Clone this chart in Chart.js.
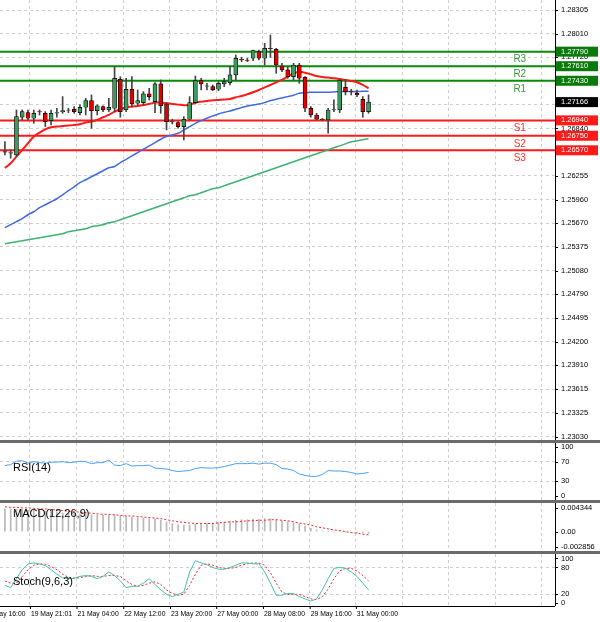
<!DOCTYPE html>
<html><head><meta charset="utf-8">
<script src="https://cdn.jsdelivr.net/npm/chart.js@4"></script>
<style>
body{margin:0;background:#fff;width:600px;height:622px;overflow:hidden;position:relative;font-family:"Liberation Sans",sans-serif}
.p{position:absolute;left:0;width:600px}
.sep{position:absolute;left:0;width:600px;height:3px;background:#6b6b6b}
</style></head><body>
<div class="p" style="top:0;height:440px"><canvas id="main"></canvas></div>
<div class="sep" style="top:440px"></div>
<div class="p" style="top:443px;height:57px"><canvas id="rsi"></canvas></div>
<div class="sep" style="top:500px"></div>
<div class="p" style="top:503px;height:48px"><canvas id="macd"></canvas></div>
<div class="sep" style="top:551px"></div>
<div class="p" style="top:554px;height:68px"><canvas id="stoch"></canvas></div>
<script>
const opens=[1.26554,1.26534,1.26513,1.26979,1.27036,1.26966,1.27049,1.27028,1.26937,1.27028,1.27049,1.27069,1.27077,1.27036,1.27102,1.27185,1.27061,1.2711,1.27069,1.2709,1.27448,1.27069,1.27325,1.27152,1.2716,1.27267,1.27172,1.27391,1.27143,1.26925,1.26913,1.26863,1.26954,1.2716,1.27432,1.27366,1.27358,1.27325,1.27391,1.27407,1.27502,1.27695,1.27687,1.27708,1.2779,1.27708,1.27831,1.27819,1.27613,1.27564,1.27481,1.27625,1.27473,1.2709,1.27007,1.26954,1.26946,1.27069,1.27069,1.27349,1.27296,1.27275,1.27201,1.27049];
const highs=[1.26678,1.26575,1.27069,1.27069,1.27069,1.27069,1.27069,1.27049,1.27069,1.2709,1.27234,1.2709,1.2711,1.27131,1.27213,1.27255,1.27131,1.27119,1.27213,1.27605,1.27481,1.27461,1.27481,1.27316,1.27296,1.27337,1.27407,1.2744,1.2716,1.26954,1.26925,1.26987,1.27234,1.27489,1.27461,1.27399,1.27378,1.27419,1.27461,1.27605,1.27749,1.2772,1.27708,1.27811,1.27811,1.27893,1.27996,1.27831,1.27646,1.27605,1.27646,1.27646,1.27481,1.2711,1.27028,1.26966,1.2709,1.27193,1.27448,1.27448,1.27325,1.27316,1.27234,1.27255];
const lows=[1.26513,1.26472,1.26492,1.26946,1.26946,1.26904,1.27007,1.26863,1.26884,1.26979,1.27028,1.27036,1.27028,1.27007,1.27007,1.26843,1.27007,1.27049,1.27049,1.27049,1.26979,1.27049,1.2711,1.27131,1.27131,1.27193,1.27036,1.27028,1.26822,1.26896,1.26843,1.26698,1.26946,1.27143,1.27316,1.27316,1.27308,1.27308,1.27358,1.27378,1.2744,1.27667,1.27667,1.27679,1.27687,1.27625,1.2772,1.27522,1.27543,1.27461,1.2744,1.27399,1.27049,1.26979,1.26946,1.26937,1.26781,1.27049,1.27036,1.27255,1.27255,1.27234,1.26979,1.27028];
const closes=[1.26546,1.26542,1.26987,1.27049,1.26966,1.27028,1.27045,1.26925,1.27028,1.27036,1.27061,1.27066,1.27049,1.27102,1.27185,1.27061,1.27119,1.27069,1.27102,1.27461,1.27049,1.27325,1.27143,1.27185,1.27267,1.27234,1.27391,1.27119,1.26925,1.26921,1.26863,1.26954,1.2716,1.27432,1.27391,1.27362,1.27316,1.27399,1.27419,1.27502,1.27708,1.27691,1.27683,1.27803,1.27708,1.27831,1.27827,1.27625,1.27564,1.27481,1.27625,1.27461,1.2709,1.27007,1.26954,1.2695,1.27069,1.27073,1.27432,1.27296,1.27292,1.27255,1.27049,1.27166];
const maRed=[1.26352,1.2641,1.26492,1.26575,1.26657,1.2674,1.26789,1.2683,1.26855,1.26863,1.26871,1.26876,1.26884,1.26892,1.26913,1.26925,1.26946,1.26979,1.27007,1.27049,1.27077,1.27102,1.2711,1.27119,1.27131,1.27143,1.2716,1.2716,1.27152,1.27143,1.27135,1.27127,1.27131,1.2716,1.27172,1.27181,1.27189,1.27193,1.27197,1.27205,1.27226,1.27242,1.27263,1.27288,1.27316,1.27349,1.27378,1.27411,1.2744,1.27481,1.27522,1.27543,1.2753,1.2751,1.27489,1.27477,1.27469,1.27461,1.27452,1.2744,1.27428,1.27411,1.27378,1.27337];
const maBlue=[1.25613,1.2565,1.25687,1.25724,1.25773,1.2581,1.2586,1.25897,1.25934,1.25971,1.2602,1.2607,1.26119,1.26169,1.26206,1.26243,1.2628,1.26317,1.26354,1.26369,1.26418,1.26459,1.265,1.26542,1.26583,1.26624,1.26665,1.26707,1.2674,1.2676,1.26781,1.26822,1.26863,1.26904,1.26937,1.26966,1.26995,1.2702,1.2704,1.27057,1.27077,1.27098,1.27119,1.27131,1.27143,1.2716,1.27185,1.27201,1.27218,1.27234,1.27251,1.27275,1.27283,1.27288,1.27288,1.27288,1.27288,1.27292,1.27296,1.27296,1.27296,1.27296,1.273,1.273];
const maGreen=[1.25415,1.25427,1.2544,1.25452,1.25464,1.25477,1.25489,1.25501,1.25514,1.25526,1.25539,1.25563,1.25576,1.25588,1.256,1.25625,1.25637,1.2565,1.25674,1.25687,1.25712,1.25736,1.25761,1.25786,1.2581,1.25835,1.2586,1.25884,1.25909,1.25934,1.25958,1.25983,1.26008,1.2602,1.26045,1.2607,1.26094,1.26107,1.26131,1.26156,1.26181,1.26206,1.2623,1.26255,1.2628,1.26304,1.26329,1.26354,1.26379,1.26403,1.26428,1.26453,1.26477,1.26502,1.26527,1.26551,1.26576,1.26601,1.26625,1.2665,1.26675,1.26687,1.267,1.26712];
const levelNames=["R3","R2","R1","S1","S2","S3"];
const levelValues=[1.2779,1.2761,1.2743,1.2694,1.2675,1.2657];
const lastPrice=1.27166;
const priceTicks=[1.28305,1.2801,1.2772,1.2714,1.2684,1.26255,1.2596,1.2567,1.25375,1.2508,1.2479,1.24495,1.242,1.2391,1.23615,1.23325,1.2303];
const rsi=[62,64,71,72,67,70,68,67,69,69,70,68,69,71,70,66,68,68,73,63,62,66,61,62,62,63,57,56,55,52,50,51,52,56,58,57,57,58,60,63,66,66,66,67,65,67,67,64,56,55,52,45,42,40,40,44,52,51,51,50,48,45,46,48];
const macdHist=[0.0042,0.0042,0.0041,0.0041,0.0040,0.0040,0.0039,0.0038,0.0037,0.0036,0.0035,0.0034,0.0033,0.0033,0.0032,0.0031,0.0031,0.0030,0.0030,0.0031,0.0029,0.0028,0.0027,0.0026,0.0025,0.0024,0.0023,0.0021,0.0018,0.0015,0.0013,0.0012,0.0012,0.0014,0.0015,0.0015,0.0016,0.0017,0.0018,0.0019,0.0021,0.0022,0.0022,0.0023,0.0023,0.0024,0.0024,0.0022,0.0020,0.0018,0.0016,0.0014,0.0010,0.0006,0.0003,0.0001,0.0000,-0.0001,0.0000,-0.0001,-0.0002,-0.0002,-0.0003,-0.0003];
const macdSignal=[0.0046,0.0045,0.0045,0.0044,0.0044,0.0043,0.0042,0.0042,0.0041,0.0040,0.0039,0.0038,0.0037,0.0036,0.0035,0.0034,0.0033,0.0032,0.0032,0.0031,0.0030,0.0029,0.0029,0.0028,0.0027,0.0026,0.0025,0.0024,0.0022,0.0020,0.0018,0.0017,0.0016,0.0015,0.0015,0.0015,0.0015,0.0016,0.0017,0.0018,0.0018,0.0019,0.0020,0.0020,0.0021,0.0021,0.0022,0.0022,0.0021,0.0020,0.0018,0.0016,0.0014,0.0012,0.0009,0.0007,0.0005,0.0003,0.0002,0.0000,-0.0002,-0.0003,-0.0005,-0.0006];
const stochK=[40,35,55,75,88,90,88,84,75,65,57,55,56,60,62,60,55,60,70,62,50,35,38,38,45,55,42,30,20,15,20,25,70,95,90,86,80,76,76,80,85,90,90,88,88,70,45,18,18,22,22,15,10,5,10,30,55,78,80,78,70,60,45,30];
const stochD=[50,45,45,60,75,85,88,87,82,75,65,58,56,57,60,62,60,60,62,62,60,50,42,38,40,45,48,42,30,22,18,20,40,65,85,88,85,80,78,78,80,85,88,90,90,85,68,45,25,20,20,20,15,10,8,15,32,55,72,78,78,72,62,50];
const timeLabels=["18 May 16:00","19 May 21:01","21 May 04:00","22 May 12:00","23 May 20:00","27 May 00:00","28 May 08:00","29 May 16:00","31 May 00:00"];
const timeTickPos=[-3.75,4.33,12.4,20.5,28.6,36.6,44.7,52.8,60.8,68.9,76.9,85,93];

const XMIN=-0.85,XMAX=95.3,AXW=45;
const F='"Liberation Sans", sans-serif';
const idx=closes.map((_,i)=>i);
function xAxis(){return {type:'linear',min:XMIN,max:XMAX,offset:false,display:true,
  afterBuildTicks:a=>{a.ticks=timeTickPos.map(v=>({value:v}));},
  ticks:{display:false},grid:{color:'#cfcfcf',lineWidth:1,drawTicks:false,offset:false},border:{display:false,dash:[3,3]}};}
function yAxis(min,max,ticks,grids){return {position:'right',min,max,
  afterFit:a=>{a.width=AXW;},
  afterBuildTicks:a=>{a.ticks=ticks.map(v=>({value:v}));},
  ticks:{display:false},
  grid:{color:c=>grids.includes(c.tick&&c.tick.value)?'#cfcfcf':'rgba(0,0,0,0)',drawTicks:false},
  border:{display:false,dash:[3,3]}};}
const axisLabels=(fmt)=>({id:'al',afterDraw(c){const ctx=c.ctx,ys=c.scales.y,R=c.chartArea.right;ctx.save();
  ctx.fillStyle='#000';ctx.fillRect(R,0,1,c.chartArea.bottom);
  ctx.font='7.5px '+F;ctx.textBaseline='middle';
  ys.ticks.forEach(t=>{const y=ys.getPixelForValue(t.value);ctx.fillRect(R,Math.round(y),3,1);ctx.fillText(fmt(t.value),R+6,y);});
  ctx.restore();}});
const base={responsive:true,maintainAspectRatio:false,animation:false,events:[],
  layout:{padding:0},plugins:{legend:{display:false},tooltip:{enabled:false}}};
const titlePlugin=(t,dy)=>({id:'t',afterDraw(c){const x=c.ctx;x.save();x.font='11px '+F;x.fillStyle='#000';x.textBaseline='middle';x.fillText(t,13,c.chartArea.top+dy);x.restore();}});

const lvlColors=levelNames.map(n=>n[0]==='R'?'#0a8a0a':'#ff1a1a');
const levelSets=levelValues.map((v,k)=>({type:'line',data:[{x:XMIN,y:v},{x:XMAX,y:v}],borderColor:lvlColors[k],borderWidth:2,pointRadius:0,order:5}));
const boxPlugin={id:'boxes',afterDraw(c){const ctx=c.ctx,ys=c.scales.y,xs=c.scales.x,R=c.chartArea.right;ctx.save();ctx.font='7.5px '+F;ctx.textBaseline='middle';
  const box=(v,bg)=>{const y=ys.getPixelForValue(v);ctx.fillStyle=bg;ctx.fillRect(R+1,y-5,AXW-3,10);ctx.fillStyle='#fff';ctx.fillText(v.toFixed(5),R+6,y);};
  levelValues.forEach((v,k)=>box(v,k<3?'#0a7a0a':'#ff1a1a'));box(lastPrice,'#000');
  ctx.font='10px '+F;ctx.textAlign='center';
  levelValues.forEach((v,k)=>{const y=ys.getPixelForValue(v);ctx.fillStyle=k<3?'#3a9a3a':'#ff3030';ctx.fillText(levelNames[k],xs.getPixelForValue(89.2),y+8);});
  ctx.restore();}};
const up=idx.map(i=>closes[i]>=opens[i]);
new Chart(document.getElementById('main'),{data:{datasets:[
  ...levelSets,
  {type:'line',data:idx.map(i=>({x:i,y:maGreen[i]})),borderColor:'#3cb371',borderWidth:1.5,pointRadius:0,tension:0.3,order:4},
  {type:'line',data:idx.map(i=>({x:i,y:maBlue[i]})),borderColor:'#4169e1',borderWidth:1.5,pointRadius:0,tension:0.3,order:4},
  {type:'line',data:idx.map(i=>({x:i,y:maRed[i]})),borderColor:'#ff1a1a',borderWidth:2,pointRadius:0,tension:0.3,order:4},
  {type:'bar',data:idx.map(i=>({x:i,y:[lows[i],highs[i]]})),backgroundColor:'#444',barThickness:1,grouped:false,order:3},
  {type:'bar',data:idx.map(i=>({x:i,y:[opens[i],closes[i]===opens[i]?closes[i]+0.00003:closes[i]]})),backgroundColor:idx.map(i=>up[i]?'#3c9a5c':'#e00000'),borderColor:'#000',borderWidth:0.7,borderSkipped:false,barThickness:4,grouped:false,order:2}
]},options:{...base,scales:{x:xAxis(),y:yAxis(1.22987,1.28429,priceTicks,priceTicks)}},plugins:[axisLabels(v=>v.toFixed(5)),boxPlugin]});

new Chart(document.getElementById('rsi'),{type:'line',data:{datasets:[
  {data:idx.map(i=>({x:i,y:rsi[i]})),borderColor:'#4a9ff5',borderWidth:1,pointRadius:0}]},
  options:{...base,scales:{x:xAxis(),y:yAxis(-8,108,[100,70,30,0],[70,30])}},plugins:[axisLabels(v=>String(v)),titlePlugin('RSI(14)',25)]});

new Chart(document.getElementById('macd'),{data:{datasets:[
  {type:'bar',data:idx.map(i=>({x:i,y:macdHist[i]})),backgroundColor:'#b8b8b8',barThickness:1,order:2},
  {type:'line',data:idx.map(i=>({x:i,y:macdSignal[i]})),borderColor:'#ff2020',borderWidth:1,borderDash:[2,2],pointRadius:0,order:1}]},
  options:{...base,scales:{x:xAxis(),y:yAxis(-0.0036,0.0053,[0.004344,0,-0.002856],[])}},plugins:[axisLabels(v=>v===0?'0.00':v.toFixed(6)),titlePlugin('MACD(12,26,9)',11)]});

const xlab={id:'xl',afterDraw(c){const ctx=c.ctx,xs=c.scales.x,B=c.chartArea.bottom;ctx.save();ctx.font='6.8px '+F;ctx.fillStyle='#000';ctx.textBaseline='top';
  timeLabels.forEach((t,k)=>{const x=xs.getPixelForValue(timeTickPos[k]);ctx.fillText(t,x+1,B+5);ctx.fillRect(x,B,1,3);});
  ctx.fillRect(0,B,c.chartArea.right,1);ctx.restore();}};
new Chart(document.getElementById('stoch'),{type:'line',data:{datasets:[
  {data:idx.map(i=>({x:i,y:stochK[i]})),borderColor:'#40c0b0',borderWidth:1,pointRadius:0},
  {data:idx.map(i=>({x:i,y:stochD[i]})),borderColor:'#ff2020',borderWidth:1,borderDash:[2,2],pointRadius:0}]},
  options:{...base,layout:{padding:{bottom:16}},scales:{x:xAxis(),y:yAxis(-6,110,[100,80,20,0],[80,20])}},plugins:[axisLabels(v=>String(v)),titlePlugin('Stoch(9,6,3)',28),xlab]});
</script></body></html>
